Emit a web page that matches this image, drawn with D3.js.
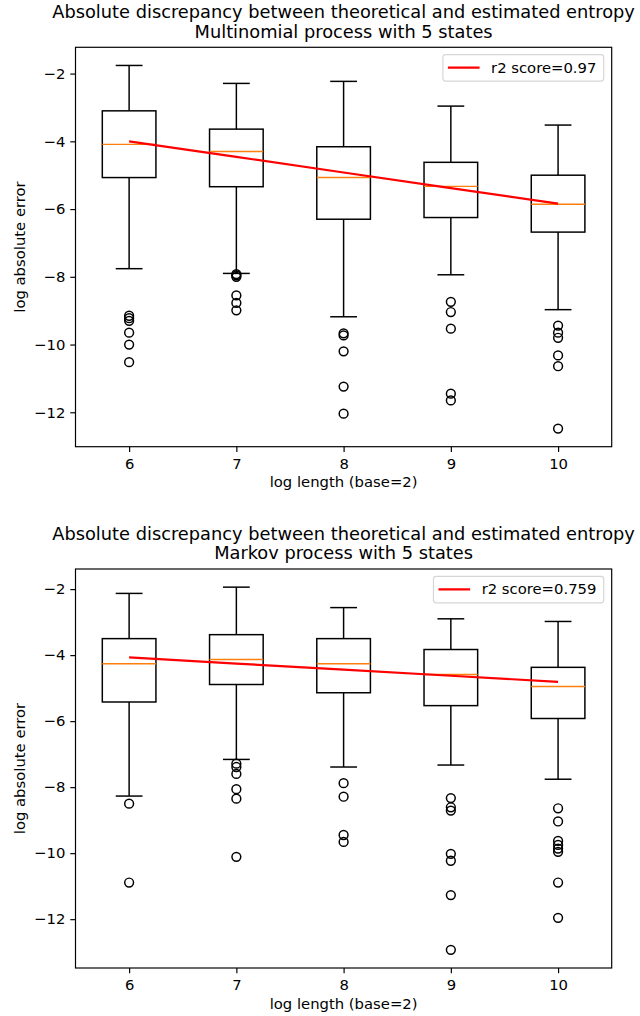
<!DOCTYPE html>
<html>
<head>
<meta charset="utf-8">
<script src="https://cdn.jsdelivr.net/npm/d3@7"></script>
<style>
  html, body { margin: 0; padding: 0; background: #fff; }
  svg { display: block; font-family: "DejaVu Sans", sans-serif; }
</style>
</head>
<body>
<svg id="chart" width="640" height="1016"></svg>
<script>
// ---------- data ----------
const lengths = [6, 7, 8, 9, 10];
const yTicks = [-2, -4, -6, -8, -10, -12];

const titleLine1 = "Absolute discrepancy between theoretical and estimated entropy";
const multiTitle = "Multinomial process with 5 states";
const markovTitle = "Markov process with 5 states";
const xLabel = "log length (base=2)";
const yLabel = "log absolute error";
const multiLegend = "r2 score=0.97";
const markovLegend = "r2 score=0.759";

// Multinomial process
const multiWhiskerHigh = [-1.76, -2.29, -2.23, -2.96, -3.52];
const multiQ3 = [-3.10, -3.64, -4.16, -4.62, -5.00];
const multiMedian = [-4.09, -4.30, -5.07, -5.33, -5.86];
const multiQ1 = [-5.07, -5.34, -6.30, -6.25, -6.68];
const multiWhiskerLow = [-7.76, -7.90, -9.18, -7.94, -8.97];
const multiFliers = [
  [-9.15, -9.22, -9.30, -9.65, -10.00, -10.52],
  [-7.92, -7.96, -8.00, -8.55, -8.77, -8.99],
  [-9.67, -9.73, -10.20, -11.24, -12.04],
  [-8.74, -9.04, -9.53, -11.45, -11.65],
  [-9.44, -9.65, -9.80, -10.32, -10.64, -12.48]
];
const multiFit = [-4.00, -4.46, -4.92, -5.38, -5.84];

// Markov process
const markovWhiskerHigh = [-2.13, -1.94, -2.56, -2.90, -2.98];
const markovQ3 = [-3.50, -3.38, -3.50, -3.83, -4.37];
const markovMedian = [-4.26, -4.13, -4.26, -4.59, -4.95];
const markovQ1 = [-5.42, -4.89, -5.14, -5.53, -5.92];
const markovWhiskerLow = [-8.27, -7.16, -7.39, -7.33, -7.76];
const markovFliers = [
  [-8.50, -10.89],
  [-7.29, -7.39, -7.60, -8.06, -8.35, -10.11],
  [-7.88, -8.29, -9.45, -9.66],
  [-8.33, -8.61, -8.71, -10.02, -10.23, -11.27, -12.93],
  [-8.64, -9.04, -9.63, -9.75, -9.86, -9.96, -10.89, -11.96]
];
const markovFit = [-4.07, -4.255, -4.44, -4.625, -4.81];

// ---------- drawing ----------
const svg = d3.select("#chart");
const FS = 14.8, TFS = 17.8;

function panel(cfg) {
  const L = 75.5, R = 611.7, T = cfg.top, B = cfg.bottom;
  const rows = lengths.map((x, i) => ({
    x, hi: cfg.hi[i], q3: cfg.q3[i], med: cfg.med[i], q1: cfg.q1[i], lo: cfg.lo[i],
    fl: cfg.fl[i], fit: cfg.fit[i]
  }));
  const all = rows.flatMap(r => [r.hi, r.lo, ...r.fl]);
  const mn = d3.min(all), mx = d3.max(all), m = (mx - mn) * 0.05;
  const y = d3.scaleLinear().domain([mn - m, mx + m]).range([B, T]);
  const x = d3.scaleLinear().domain([5.5, 10.5]).range([L, R]);
  const bw = (x(1) - x(0)) * 0.5;   // box width = 0.5 units
  const cw = bw / 2;                // cap width

  const g = svg.append("g");

  // axes
  const xa = g.append("g").attr("transform", `translate(0,${B})`)
    .call(d3.axisBottom(x).tickValues(lengths).tickFormat(d3.format("d")).tickSize(5.2).tickPadding(6.6));
  const ya = g.append("g").attr("transform", `translate(${L},0)`)
    .call(d3.axisLeft(y).tickValues(yTicks).tickSize(5.2).tickPadding(5));
  [xa, ya].forEach(a => {
    a.select(".domain").remove();
    a.selectAll(".tick line").attr("stroke", "#000").attr("stroke-width", 1.18);
    a.selectAll(".tick text").attr("fill", "#000").style("font-size", FS + "px")
      .style("font-family", "DejaVu Sans");
  });

  const boxG = g.append("g").attr("fill", "none").attr("stroke", "#000").attr("stroke-width", 1.48);
  // whiskers
  boxG.selectAll(".wu").data(rows).join("line").attr("class", "wu")
    .attr("x1", d => x(d.x)).attr("x2", d => x(d.x)).attr("y1", d => y(d.q3)).attr("y2", d => y(d.hi));
  boxG.selectAll(".wl").data(rows).join("line").attr("class", "wl")
    .attr("x1", d => x(d.x)).attr("x2", d => x(d.x)).attr("y1", d => y(d.q1)).attr("y2", d => y(d.lo));
  // caps
  boxG.selectAll(".cu").data(rows).join("line").attr("class", "cu")
    .attr("x1", d => x(d.x) - cw / 2).attr("x2", d => x(d.x) + cw / 2).attr("y1", d => y(d.hi)).attr("y2", d => y(d.hi));
  boxG.selectAll(".cl").data(rows).join("line").attr("class", "cl")
    .attr("x1", d => x(d.x) - cw / 2).attr("x2", d => x(d.x) + cw / 2).attr("y1", d => y(d.lo)).attr("y2", d => y(d.lo));
  // boxes
  boxG.selectAll(".bx").data(rows).join("rect").attr("class", "bx")
    .attr("x", d => x(d.x) - bw / 2).attr("width", bw)
    .attr("y", d => y(d.q3)).attr("height", d => y(d.q1) - y(d.q3));
  // medians
  g.append("g").selectAll("line").data(rows).join("line")
    .attr("x1", d => x(d.x) - bw / 2).attr("x2", d => x(d.x) + bw / 2)
    .attr("y1", d => y(d.med)).attr("y2", d => y(d.med))
    .attr("stroke", "#ff7f0e").attr("stroke-width", 1.48);
  // fliers
  g.append("g").selectAll("circle")
    .data(rows.flatMap(r => r.fl.map(v => ({ x: r.x, v }))))
    .join("circle")
    .attr("cx", d => x(d.x)).attr("cy", d => y(d.v)).attr("r", 4.4)
    .attr("fill", "none").attr("stroke", "#000").attr("stroke-width", 1.48);
  // regression line
  g.append("path").datum(rows)
    .attr("d", d3.line().x(d => x(d.x)).y(d => y(d.fit)))
    .attr("fill", "none").attr("stroke", "red").attr("stroke-width", 2.2);

  // spines
  g.append("rect").attr("x", L).attr("y", T).attr("width", R - L).attr("height", B - T)
    .attr("fill", "none").attr("stroke", "#000").attr("stroke-width", 1.18);

  // titles
  const cx = (L + R) / 2;
  g.append("text").attr("x", cx).attr("y", T - 29.2).attr("text-anchor", "middle")
    .style("font-size", TFS + "px").text(titleLine1);
  g.append("text").attr("x", cx).attr("y", T - 9.6).attr("text-anchor", "middle")
    .style("font-size", TFS + "px").text(cfg.sub);
  // axis labels
  g.append("text").attr("x", cx).attr("y", B + 40.6).attr("text-anchor", "middle")
    .style("font-size", FS + "px").text(xLabel);
  g.append("text").attr("transform", `translate(24.5,${(T + B) / 2}) rotate(-90)`)
    .attr("text-anchor", "middle").style("font-size", FS + "px").text(yLabel);

  // legend
  const lg = g.append("g");
  const lt = lg.append("text").attr("y", T + 20.3).attr("dy", "0.35em")
    .style("font-size", FS + "px").text(cfg.legend);
  const tw = lt.node().getComputedTextLength();
  const rRight = R - 8;
  const tStart = rRight - 7.3 - tw;
  lt.attr("x", tStart);
  const hEnd = tStart - 11.5, hStart = hEnd - 31.7;
  lg.insert("rect", "text").attr("x", hStart - 5).attr("y", T + 7.4)
    .attr("width", rRight - (hStart - 5)).attr("height", 26.4)
    .attr("rx", 2.8).attr("fill", "#fff").attr("fill-opacity", 0.8)
    .attr("stroke", "#d6d6d6").attr("stroke-width", 1.18);
  lg.append("line").attr("x1", hStart).attr("x2", hEnd)
    .attr("y1", T + 20.3).attr("y2", T + 20.3)
    .attr("stroke", "red").attr("stroke-width", 2.2);
}

panel({ top: 47.3, bottom: 446.7, sub: multiTitle, legend: multiLegend,
  hi: multiWhiskerHigh, q3: multiQ3, med: multiMedian, q1: multiQ1, lo: multiWhiskerLow,
  fl: multiFliers, fit: multiFit });
panel({ top: 569, bottom: 968, sub: markovTitle, legend: markovLegend,
  hi: markovWhiskerHigh, q3: markovQ3, med: markovMedian, q1: markovQ1, lo: markovWhiskerLow,
  fl: markovFliers, fit: markovFit });
</script>
</body>
</html>
